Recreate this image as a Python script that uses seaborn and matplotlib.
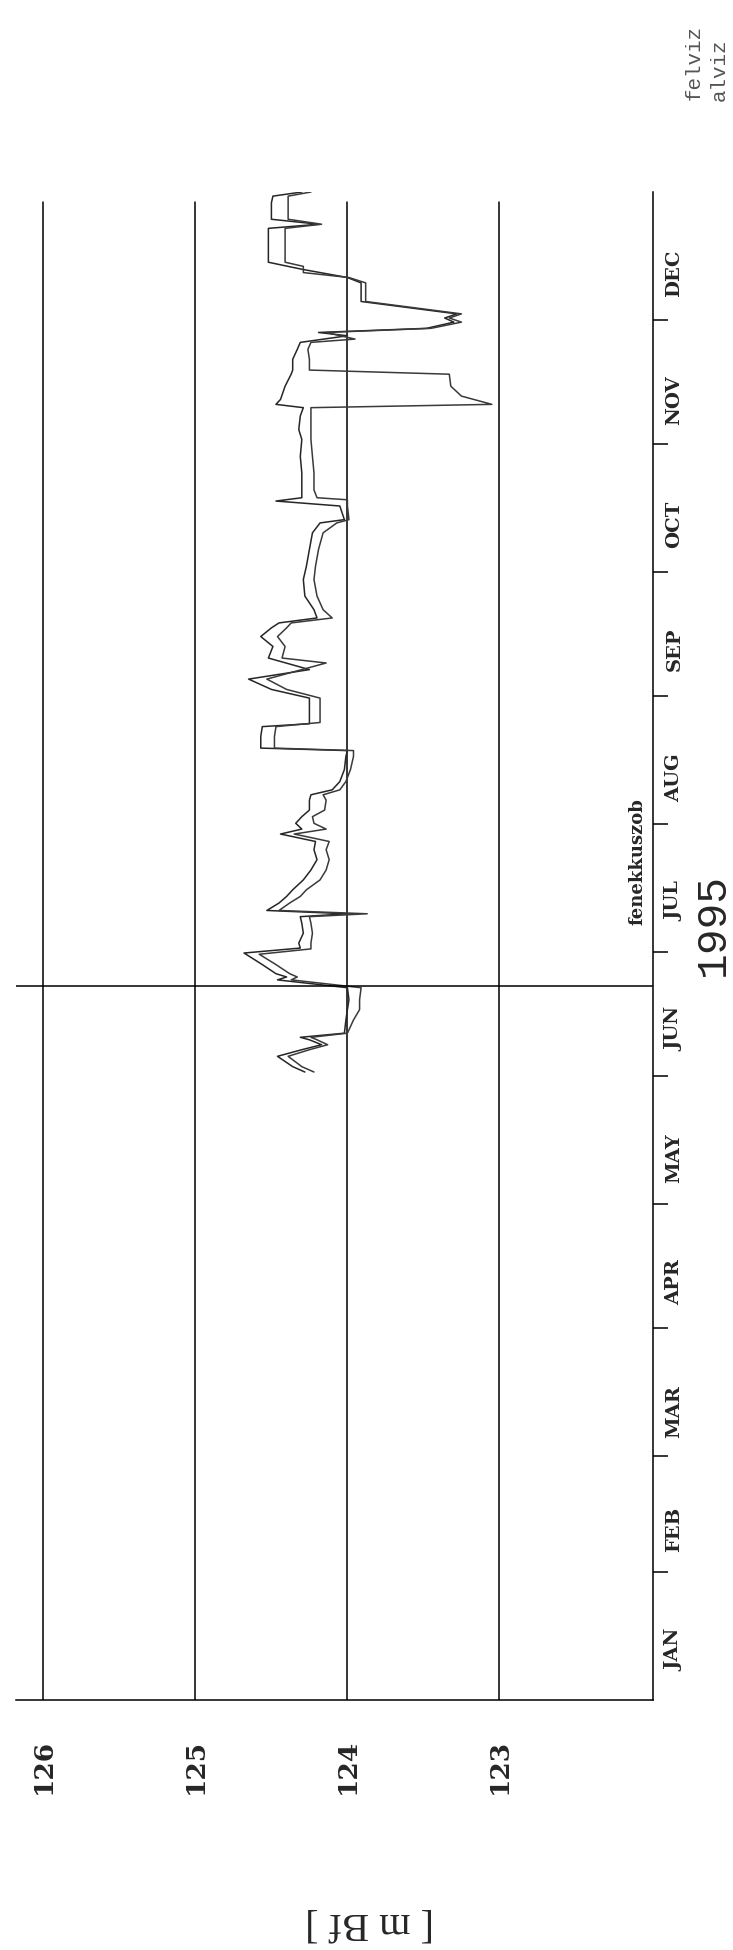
import numpy as np
import pandas as pd
import seaborn as sns
from matplotlib import pyplot as plt

# day of year (0 = Jan 1) and water level [m Bf]
felviz_day = [152.0, 153.3, 155.8, 157.4, 158.6, 159.8, 160.4, 161.4, 164.6, 167.1,
              169.5, 172.4, 174.3, 175.0, 175.8, 178.0, 180.8, 182.0, 183.2, 185.6,
              188.0, 189.6, 190.3, 191.1, 192.9, 194.5, 196.1, 198.5, 200.9, 203.4,
              205.8, 207.8, 209.6, 210.8, 212.2, 213.8, 215.4, 217.8, 219.1, 220.3,
              222.3, 225.2, 228.4, 229.8, 230.4, 233.2, 235.6, 236.3, 237.3, 241.3,
              242.5, 244.6, 247.1, 249.4, 252.2, 255.0, 257.4, 259.5, 260.7, 261.9,
              263.9, 267.2, 271.2, 274.4, 278.5, 282.5, 284.9, 285.7, 289.0, 290.2,
              291.0, 292.9, 297.0, 301.0, 305.1, 307.5, 310.8, 312.8, 313.6, 314.8,
              318.0, 320.9, 321.9, 324.5, 326.9, 328.6, 330.2, 331.0, 332.0, 333.5,
              334.5, 335.5, 338.5, 343.0, 344.3, 346.3, 348.0, 350.3, 354.4, 356.2,
              357.2, 358.4, 362.4, 364.0, 365.0]
felviz_val = [124.28, 124.36, 124.46, 124.30, 124.17, 124.25, 124.31, 124.02, 124.01, 124.00,
              123.99, 124.00, 124.46, 124.40, 124.47, 124.56, 124.68, 124.31, 124.32, 124.29,
              124.30, 124.31, 124.00, 124.53, 124.45, 124.40, 124.36, 124.29, 124.24, 124.20,
              124.22, 124.21, 124.44, 124.30, 124.34, 124.30, 124.25, 124.25, 124.24, 124.10,
              124.05, 124.02, 124.01, 124.00, 124.57, 124.57, 124.56, 124.25, 124.25, 124.25,
              124.25, 124.50, 124.65, 124.25, 124.52, 124.49, 124.57, 124.50, 124.45, 124.20,
              124.22, 124.28, 124.29, 124.27, 124.25, 124.23, 124.18, 124.02, 124.05, 124.47,
              124.30, 124.30, 124.30, 124.31, 124.30, 124.32, 124.31, 124.29, 124.47, 124.44,
              124.41, 124.37, 124.36, 124.36, 124.33, 124.31, 124.00, 124.19, 123.48, 123.30,
              123.36, 123.28, 123.91, 123.91, 124.00, 124.30, 124.52, 124.52, 124.52, 124.52,
              124.19, 124.50, 124.50, 124.49, 124.30]

alviz_day = [152.0, 153.3, 155.8, 157.4, 158.6, 159.8, 160.4, 161.4, 164.6, 167.1,
             169.5, 172.4, 174.3, 175.0, 175.8, 178.0, 180.5, 181.8, 183.2, 185.6,
             188.0, 189.6, 190.3, 191.1, 192.9, 194.5, 196.1, 198.5, 200.9, 203.4,
             205.8, 207.8, 209.6, 210.8, 212.2, 213.8, 215.4, 217.8, 219.1, 220.3,
             222.3, 225.2, 228.4, 229.8, 230.4, 233.2, 235.6, 236.6, 237.3, 241.3,
             242.5, 244.6, 247.1, 251.0, 252.2, 255.0, 257.4, 259.5, 260.7, 261.9,
             263.9, 267.2, 271.2, 274.4, 278.5, 282.5, 284.9, 285.7, 289.0, 290.5,
             291.0, 292.9, 297.0, 301.0, 305.1, 307.5, 310.8, 312.8, 313.6, 315.6,
             318.0, 320.9, 321.9, 324.5, 326.9, 328.6, 329.4, 331.0, 332.0, 333.5,
             334.5, 335.5, 338.5, 343.0, 344.3, 345.5, 347.0, 348.0, 350.3, 354.4,
             356.2, 357.2, 358.4, 362.4, 364.0, 365.0]
alviz_val = [124.22, 124.30, 124.39, 124.25, 124.13, 124.20, 124.24, 124.00, 123.96, 123.92,
             123.92, 123.91, 124.37, 124.33, 124.38, 124.47, 124.58, 124.24, 124.24, 124.23,
             124.24, 124.25, 123.87, 124.45, 124.38, 124.31, 124.27, 124.18, 124.14, 124.12,
             124.14, 124.12, 124.35, 124.14, 124.22, 124.23, 124.15, 124.14, 124.16, 124.05,
             124.01, 123.98, 123.96, 123.96, 124.48, 124.48, 124.47, 124.18, 124.18, 124.18,
             124.18, 124.40, 124.53, 124.14, 124.43, 124.41, 124.46, 124.40, 124.37, 124.10,
             124.16, 124.20, 124.22, 124.21, 124.19, 124.16, 124.07, 123.99, 124.00, 124.00,
             124.20, 124.22, 124.22, 124.23, 124.24, 124.24, 124.24, 124.24, 123.05, 123.25,
             123.32, 123.33, 124.25, 124.25, 124.26, 124.24, 123.95, 124.14, 123.45, 123.25,
             123.33, 123.25, 123.88, 123.88, 123.99, 124.29, 124.29, 124.41, 124.41, 124.41,
             124.41, 124.17, 124.39, 124.39, 124.39, 124.24]

months = ['JAN', 'FEB', 'MAR', 'APR', 'MAY', 'JUN', 'JUL', 'AUG', 'SEP', 'OCT', 'NOV', 'DEC']
month_start = [0, 31, 59, 90, 120, 151, 181, 212, 243, 273, 304, 334, 365]
level_ticks = [126, 125, 124, 123]
fenek_day = 172.7
year = '1995'

W, H = 733, 1950

sns.set_style('white')
plt.rcParams['font.family'] = ['DejaVu Serif', 'DejaVu Sans']

df = pd.concat([
    pd.DataFrame({'day': felviz_day, 'level': felviz_val, 'series': 'felviz'}),
    pd.DataFrame({'day': alviz_day, 'level': alviz_val, 'series': 'alviz'}),
])

fig = plt.figure(figsize=(W / 100, H / 100), dpi=100)
ax = fig.add_axes([16 / W, 250 / H, 637 / W, 1508 / H])

sns.lineplot(data=df, x='level', y='day', hue='series', orient='y',
             estimator=None, sort=True, legend=False, lw=1.1,
             palette={'felviz': '#262626', 'alviz': '#3a3a3a'}, ax=ax)

ax.set_xlim(126.18, 121.99)
ax.set_ylim(0, 365)
ax.set_xlabel('')
ax.set_ylabel('')

# level grid lines, ending a little below the top
for v in level_ticks:
    ax.axvline(v, ymax=362.5 / 365, color='black', lw=1.1, zorder=0)

ax.axhline(fenek_day, color='black', lw=1.1)
ax.text(122.09, 203, 'fenekkuszob', rotation=90, ha='center', va='center',
        fontsize=13, fontweight='bold')

for side in ['left', 'top']:
    ax.spines[side].set_visible(False)
for side in ['bottom', 'right']:
    ax.spines[side].set_color('black')
    ax.spines[side].set_linewidth(1.1)

ax.set_xticks(level_ticks)
ax.set_xticklabels([str(v) for v in level_ticks])
ax.tick_params(axis='x', direction='out', length=14, width=1.1, pad=14,
               labelsize=19, labelrotation=90, color='black')
for lbl in ax.get_xticklabels():
    lbl.set_fontweight('bold')

ax.yaxis.tick_right()
ax.set_yticks(month_start[1:-1])
ax.set_yticklabels([])
mids = [(a + b) / 2 for a, b in zip(month_start[:-1], month_start[1:])]
ax.set_yticks(mids, minor=True)
ax.set_yticklabels(months, minor=True)
ax.tick_params(axis='y', which='major', direction='out', length=11, width=1.1, color='black')
ax.tick_params(axis='y', which='minor', length=0, pad=9, labelsize=14, labelrotation=90)
for lbl in ax.get_yticklabels(minor=True):
    lbl.set_fontweight('bold')

fig.text(713 / W, 1 - 925 / H, year, rotation=90, ha='center', va='center',
         fontsize=31, family='Liberation Mono')
fig.text(370 / W, 1 - 1922 / H, '[ m Bf ]', rotation=180, ha='center', va='center',
         fontsize=29, family='Liberation Serif')
fig.text(694 / W, 1 - 62 / H, 'felviz', rotation=90, ha='center', va='center',
         fontsize=15, family='Liberation Mono', color='#555555')
fig.text(719 / W, 1 - 70 / H, 'alviz', rotation=90, ha='center', va='center',
         fontsize=15, family='Liberation Mono', color='#555555')

fig.savefig('out.png', dpi=100)
